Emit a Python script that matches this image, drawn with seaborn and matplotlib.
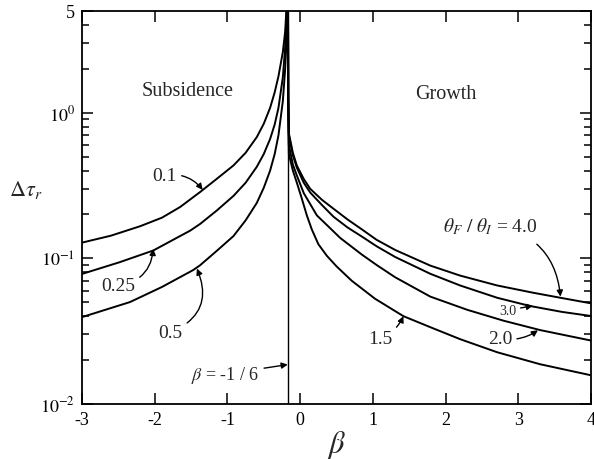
import matplotlib
matplotlib.use("Agg")
import matplotlib.pyplot as plt
import matplotlib.ticker as mticker
import seaborn as sns
import numpy as np

# values (beta, delta tau_r)
beta_01 = [-3.0, -2.6, -2.2, -1.9, -1.65, -1.376, -1.15, -0.917, -0.75, -0.596, -0.5,
           -0.413, -0.35, -0.298, -0.238, -0.206, -0.19]
tau_01 = [0.128, 0.143, 0.166, 0.19, 0.225, 0.285, 0.35, 0.434, 0.53, 0.68, 0.84,
          1.08, 1.38, 1.78, 2.61, 3.6, 5.0]

beta_025 = [-3.0, -2.48, -2.02, -1.51, -1.376, -1.15, -0.917, -0.75, -0.596, -0.5,
            -0.413, -0.35, -0.298, -0.238, -0.206, -0.185]
tau_025 = [0.078, 0.094, 0.113, 0.155, 0.172, 0.212, 0.268, 0.33, 0.425, 0.52,
           0.66, 0.83, 1.08, 1.75, 2.8, 5.0]

beta_05 = [-3.0, -2.34, -1.9, -1.47, -1.376, -1.15, -0.917, -0.75, -0.596, -0.5,
           -0.413, -0.35, -0.298, -0.238, -0.206, -0.185, -0.175]
tau_05 = [0.0394, 0.050, 0.0635, 0.083, 0.0895, 0.112, 0.142, 0.182, 0.24, 0.305,
          0.40, 0.52, 0.70, 1.2, 2.0, 3.3, 5.0]

beta_40 = [-0.167, -0.163, -0.155, -0.1, -0.046, 0.05, 0.138, 0.3, 0.458, 0.65,
           0.848, 1.05, 1.307, 1.79, 2.2, 2.71, 3.2, 3.58, 4.0]
tau_40 = [5.0, 1.3, 0.72, 0.53, 0.434, 0.35, 0.300, 0.252, 0.219, 0.185,
          0.158, 0.134, 0.114, 0.089, 0.076, 0.065, 0.058, 0.0535, 0.049]

beta_30 = [-0.167, -0.163, -0.155, -0.1, -0.046, 0.05, 0.138, 0.3, 0.458, 0.65,
           0.848, 1.05, 1.307, 1.79, 2.2, 2.71, 3.16, 3.6, 4.0]
tau_30 = [5.0, 1.3, 0.70, 0.51, 0.42, 0.33, 0.283, 0.232, 0.193, 0.163,
          0.141, 0.121, 0.102, 0.0782, 0.065, 0.0535, 0.047, 0.0428, 0.0401]

beta_20 = [-0.167, -0.164, -0.155, -0.1, -0.046, 0.05, 0.23, 0.39, 0.55, 0.848,
           1.05, 1.307, 1.79, 2.3, 2.8, 3.3, 4.0]
tau_20 = [5.0, 1.2, 0.60, 0.44, 0.371, 0.28, 0.197, 0.165, 0.138, 0.106,
          0.090, 0.074, 0.0545, 0.0442, 0.0372, 0.0321, 0.0272]

beta_15 = [-0.167, -0.164, -0.155, -0.1, -0.045, 0.02, 0.092, 0.16, 0.25, 0.367,
           0.5, 0.71, 1.03, 1.42, 1.79, 2.2, 2.71, 3.3, 4.0]
tau_15 = [5.0, 1.1, 0.52, 0.40, 0.33, 0.26, 0.197, 0.158, 0.125, 0.104,
          0.088, 0.0700, 0.0527, 0.040, 0.0336, 0.0278, 0.0226, 0.0187, 0.0157]

curves = [(beta_01, tau_01), (beta_025, tau_025), (beta_05, tau_05),
          (beta_40, tau_40), (beta_30, tau_30), (beta_20, tau_20), (beta_15, tau_15)]

sns.set_theme(style="ticks")
plt.rcParams["font.family"] = ["Liberation Serif", "DejaVu Serif"]
plt.rcParams["mathtext.fontset"] = "stix"
plt.rcParams["axes.unicode_minus"] = False

fig = plt.figure(figsize=(5.94, 4.60), dpi=100)
ax = fig.add_axes([0.138, 0.12, 0.857, 0.854])

for bx, ty in curves:
    sns.lineplot(x=bx, y=ty, ax=ax, color="black", lw=1.4, sort=False, estimator=None)

ax.axvline(-1 / 6, color="black", lw=1.0)

ax.set_yscale("log")
ax.set_xlim(-3, 4)
ax.set_ylim(0.01, 5)
ax.set_yticks([0.01, 0.1, 1, 5])
ax.set_yticklabels(["$10^{-2}$", "$10^{-1}$", "$10^{0}$", "5"])
ax.yaxis.set_minor_locator(mticker.LogLocator(base=10, subs=np.arange(2, 10)))
ax.yaxis.set_minor_formatter(mticker.NullFormatter())
ax.set_xticks(range(-3, 5))

for s in ax.spines.values():
    s.set_linewidth(1.3)
    s.set_color("black")
ax.tick_params(which="both", direction="in", top=True, right=True, colors="black",
               labelsize=13, width=1.1)
ax.tick_params(which="major", length=8, pad=5)
ax.tick_params(which="minor", length=5)

ax.set_xlabel(r"$\beta$", fontsize=22, labelpad=0)
ax.set_ylabel(r"$\Delta\tau_r$", fontsize=16, rotation=0, labelpad=22)
ax.yaxis.set_label_coords(-0.11, 0.52)

ax.text(-1.55, 1.42, "Subsidence", fontsize=14.5, ha="center", va="center")
ax.text(2.0, 1.35, "Growth", fontsize=14.5, ha="center", va="center")

arrow = dict(arrowstyle="-|>", color="black", lw=1.0, mutation_scale=9, shrinkA=1, shrinkB=0)
ax.annotate("0.1", xy=(-1.34, 0.295), xytext=(-1.86, 0.37), fontsize=14,
            ha="center", va="center",
            arrowprops=dict(arrow, connectionstyle="arc3,rad=-0.3"))
ax.annotate("0.25", xy=(-2.02, 0.116), xytext=(-2.5, 0.065), fontsize=14,
            ha="center", va="center",
            arrowprops=dict(arrow, connectionstyle="arc3,rad=0.4"))
ax.annotate("0.5", xy=(-1.42, 0.085), xytext=(-1.78, 0.031), fontsize=14,
            ha="center", va="center",
            arrowprops=dict(arrow, connectionstyle="arc3,rad=0.5"))
ax.annotate(r"$\beta$ = -1 / 6", xy=(-0.17, 0.0186), xytext=(-1.03, 0.016),
            fontsize=13, ha="center", va="center",
            arrowprops=dict(arrow, connectionstyle="arc3,rad=0"))
ax.annotate(r"$\theta_F\ /\ \theta_I$ = 4.0", xy=(3.58, 0.0545), xytext=(2.62, 0.168),
            fontsize=14, ha="center", va="center",
            arrowprops=dict(arrow, connectionstyle="arc3,rad=-0.4", shrinkA=6))
ax.annotate("3.0", xy=(3.2, 0.0472), xytext=(2.85, 0.0438), fontsize=10,
            ha="center", va="center",
            arrowprops=dict(arrow, connectionstyle="arc3,rad=0"))
ax.annotate("2.0", xy=(3.27, 0.032), xytext=(2.75, 0.028), fontsize=14,
            ha="center", va="center",
            arrowprops=dict(arrow, connectionstyle="arc3,rad=0.2"))
ax.annotate("1.5", xy=(1.42, 0.040), xytext=(1.1, 0.028), fontsize=14,
            ha="center", va="center",
            arrowprops=dict(arrow, connectionstyle="arc3,rad=0.2"))

fig.savefig("out.png", dpi=100)
